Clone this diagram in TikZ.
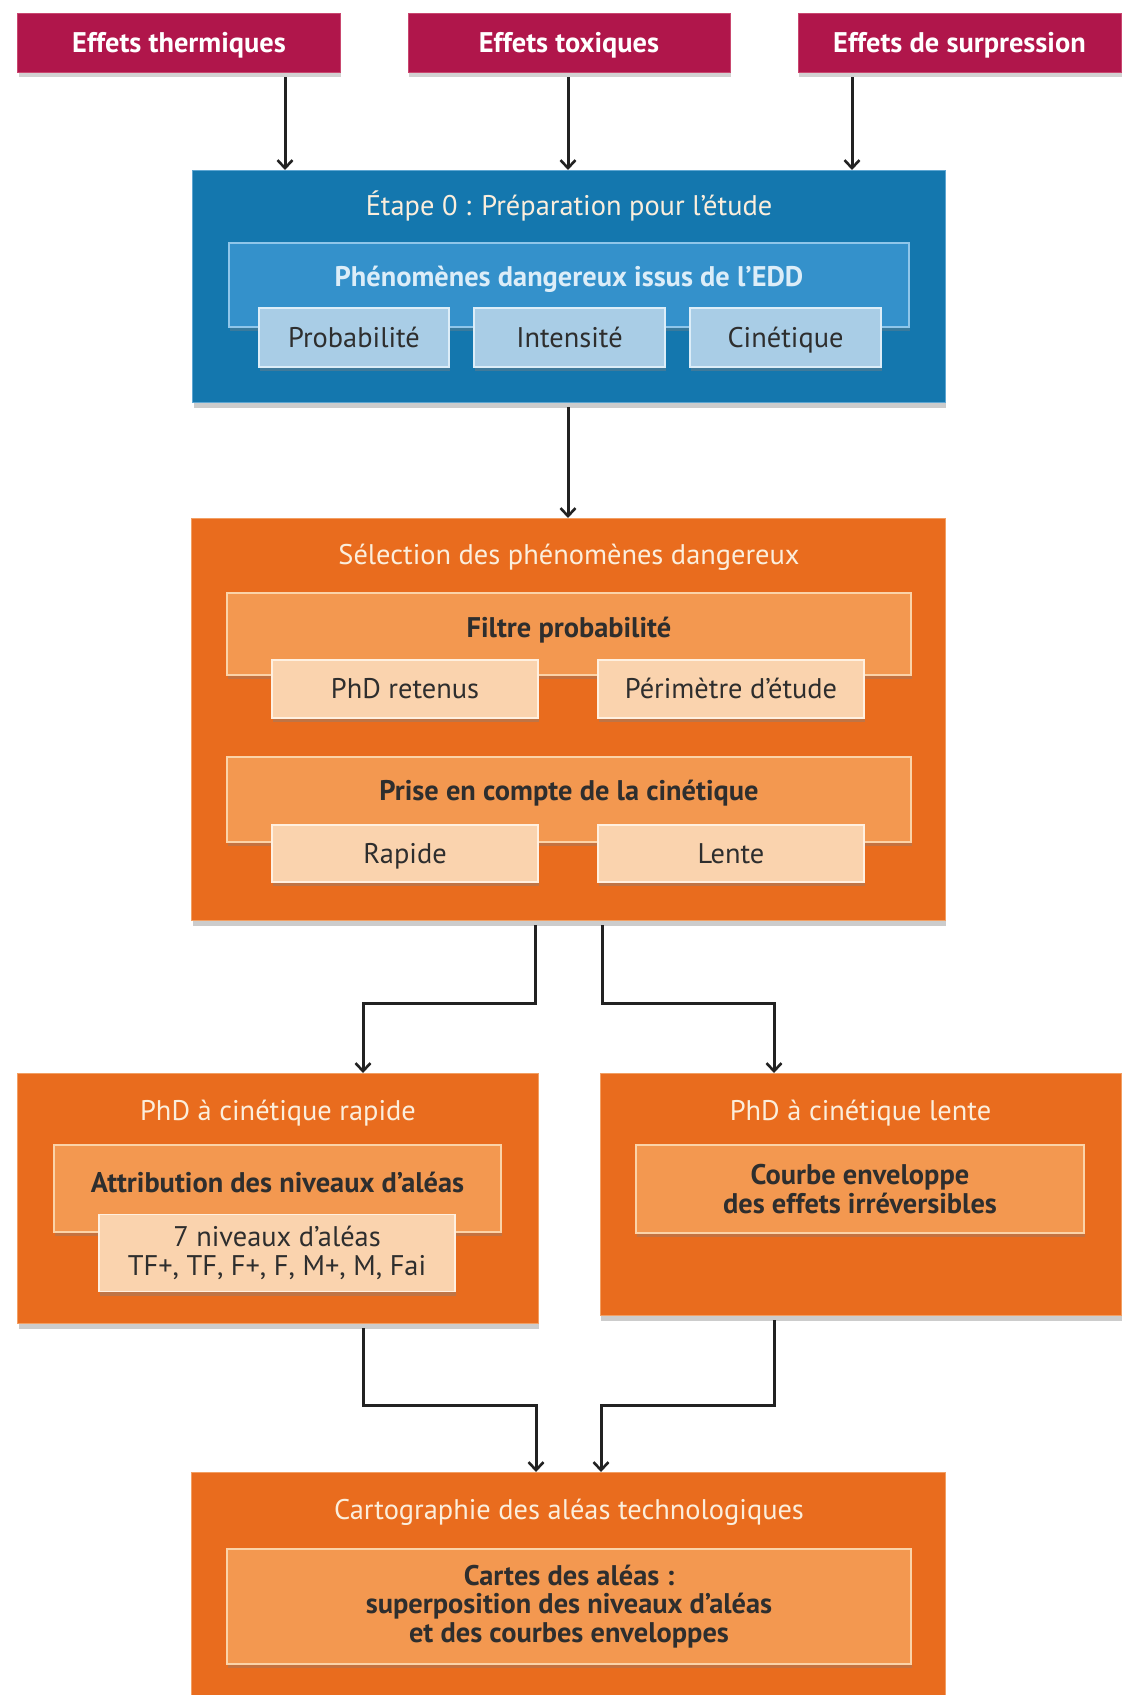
\documentclass[tikz,border=0pt]{standalone}
\usepackage{fontspec}
\setmainfont{PT Sans}
\usetikzlibrary{arrows.meta,shadows}
\definecolor{cRed}{HTML}{B0164B}
\definecolor{cRedL}{HTML}{C9476F}
\definecolor{cBlue}{HTML}{1477AE}
\definecolor{cBlueIn}{HTML}{3491CB}
\definecolor{cBlueInL}{HTML}{8FC6EA}
\definecolor{cBlueSub}{HTML}{A9CDE6}
\definecolor{cBlueSubL}{HTML}{DCEDF8}
\definecolor{cOr}{HTML}{E96C1E}
\definecolor{cOrIn}{HTML}{F39850}
\definecolor{cOrInL}{HTML}{FBD3A8}
\definecolor{cOrSub}{HTML}{FAD3AE}
\definecolor{cOrSubL}{HTML}{FFF0E0}
\definecolor{cCream}{HTML}{FBEEDC}
\definecolor{cDark}{HTML}{2E2E2E}
\definecolor{cLine}{HTML}{222222}
\tikzset{
  basebox/.style={rectangle, inner sep=0pt, outer sep=0pt, align=center},
  fnt/.style={font=\fontsize{28.5}{29}\selectfont},
  fntb/.style={font=\bfseries\fontsize{28.5}{29}\selectfont},
  oneline/.style={text height=24bp, text depth=5bp},
  redbox/.style={basebox, fntb, oneline, fill=cRed, draw=cRedL, line width=1bp, text=white,
    drop shadow={shadow xshift=1bp, shadow yshift=-5bp, opacity=0.35}},
  bluebox/.style={basebox, fill=cBlue, draw=cBlueInL!60!cBlue, line width=1bp,
    drop shadow={shadow xshift=1bp, shadow yshift=-6bp, opacity=0.4}},
  blueinbox/.style={basebox, fill=cBlueIn, draw=cBlueInL, line width=1.5bp,
    drop shadow={shadow xshift=1bp, shadow yshift=-4bp, opacity=0.35}},
  bluesubbox/.style={basebox, fnt, oneline, fill=cBlueSub, draw=cBlueSubL, line width=1.5bp, text=cDark,
    drop shadow={shadow xshift=1bp, shadow yshift=-4bp, opacity=0.4}},
  orbox/.style={basebox, fill=cOr, draw=cOrInL!50!cOr, line width=1bp,
    drop shadow={shadow xshift=1bp, shadow yshift=-6bp, opacity=0.4}},
  orinbox/.style={basebox, fill=cOrIn, draw=cOrInL, line width=1.5bp, text=cDark, fntb,
    drop shadow={shadow xshift=1bp, shadow yshift=-4bp, opacity=0.35}},
  orsubbox/.style={basebox, fnt, fill=cOrSub, draw=cOrSubL, line width=1.5bp, text=cDark,
    drop shadow={shadow xshift=1bp, shadow yshift=-4bp, opacity=0.4}},
  titlelight/.style={fnt, text=cCream, inner sep=0pt},
  titlebluein/.style={fntb, text=cBlueSubL, inner sep=0pt},
  titledark/.style={fntb, text=cDark, inner sep=0pt},
  arr/.style={draw=cLine, line width=3bp, -{Straight Barb[length=8bp,width=15bp,line width=2.6bp]}},
}
\begin{document}
\begin{tikzpicture}[x=1bp,y=-1bp]
\useasboundingbox (0,0) rectangle (1127,1695);
\clip (0,0) rectangle (1127,1695);
\fill[white] (0,0) rectangle (1127,1695);

% top red boxes
\node[redbox, minimum width=322bp, minimum height=58bp] (r1) at (179,43) {Effets thermiques};
\node[redbox, minimum width=322bp, minimum height=58bp] (r2) at (569,43) {Effets toxiques};
\node[redbox, minimum width=323bp, minimum height=58bp] (r3) at (959.5,43) {Effets de surpression};

% blue stage 0
\node[bluebox, minimum width=752bp, minimum height=232bp] (blue) at (569,286) {};
\node[titlelight] (blueT) at (569,206) {Étape 0 : Préparation pour l’étude};
\node[blueinbox, minimum width=680bp, minimum height=84bp] (bluein) at (569,285) {};
\node[titlebluein] (blueinT) at (569,279) {Phénomènes dangereux issus de l’EDD};
\node[bluesubbox, minimum width=190bp, minimum height=59bp] (proba) at (354,337.5) {Probabilité};
\node[bluesubbox, minimum width=191bp, minimum height=59bp] (inten) at (569.5,337.5) {Intensité};
\node[bluesubbox, minimum width=191bp, minimum height=59bp] (cine) at (785.5,337.5) {Cinétique};

% selection
\node[orbox, minimum width=753bp, minimum height=402bp] (sel) at (568.5,719) {};
\node[titlelight] (selT) at (569,557) {Sélection des phénomènes dangereux};
\node[orinbox, minimum width=684bp, minimum height=82bp] (filtre) at (569,634) {};
\node[titledark] (filtreT) at (569,630) {Filtre probabilité};
\node[orsubbox, oneline, minimum width=266bp, minimum height=58bp] (ret) at (405,689) {PhD retenus};
\node[orsubbox, oneline, minimum width=266bp, minimum height=58bp] (peri) at (731,689) {Périmètre d’étude};
\node[orinbox, minimum width=684bp, minimum height=85bp] (prise) at (569,799.5) {};
\node[titledark] (priseT) at (569,793) {Prise en compte de la cinétique};
\node[orsubbox, oneline, minimum width=266bp, minimum height=57bp] (rap) at (405,853.5) {Rapide};
\node[orsubbox, oneline, minimum width=266bp, minimum height=57bp] (lent) at (731,853.5) {Lente};

% rapid / slow
\node[orbox, minimum width=520bp, minimum height=250bp] (rapbox) at (278,1198) {};
\node[titlelight] (rapT) at (278,1113) {PhD à cinétique rapide};
\node[orinbox, minimum width=447bp, minimum height=87bp] (attr) at (277.5,1188.5) {};
\node[titledark] (attrT) at (277.5,1182) {Attribution des niveaux d’aléas};
\node[orsubbox, minimum width=356bp, minimum height=77bp] (niv) at (277,1253) {\raisebox{-2bp}{7 niveaux d’aléas}\\\raisebox{-2bp}{TF+, TF, F+, F, M+, M, Fai}};

\node[orbox, minimum width=521bp, minimum height=242bp] (lentbox) at (860.5,1194) {};
\node[titlelight] (lentT) at (860.5,1113) {PhD à cinétique lente};
\node[orinbox, minimum width=448bp, minimum height=88bp] (courbe) at (860,1189) {Courbe enveloppe\\des effets irréversibles};

% cartography
\node[orbox, minimum width=753bp, minimum height=240bp, anchor=north] (carto) at (568.5,1472) {};
\node[titlelight] (cartoT) at (569,1512) {Cartographie des aléas technologiques};
\node[orinbox, minimum width=684bp, minimum height=115bp] (cartes) at (569,1606.5) {Cartes des aléas :\\superposition des niveaux d’aléas\\et des courbes enveloppes};

% connectors
\draw[arr, shorten <=5bp] (r1.south -| 285,0) -- (blue.north -| 285,0);
\draw[arr, shorten <=5bp] (r2.south -| 568,0) -- (blue.north -| 568,0);
\draw[arr, shorten <=5bp] (r3.south -| 852,0) -- (blue.north -| 852,0);
\draw[arr, shorten <=5bp] (blue.south -| 568,0) -- (sel.north -| 568,0);
\draw[arr, shorten <=5bp] (sel.south -| 535,0) |- (449,1003) -| (rapbox.north -| 363,0);
\draw[arr, shorten <=5bp] (sel.south -| 602,0) |- (688,1003) -| (lentbox.north -| 774,0);
\draw[arr, shorten <=5bp] (rapbox.south -| 363,0) |- (450,1405) -| (carto.north -| 536,0);
\draw[arr, shorten <=5bp] (lentbox.south -| 774,0) |- (688,1405) -| (carto.north -| 601,0);
\end{tikzpicture}
\end{document}
